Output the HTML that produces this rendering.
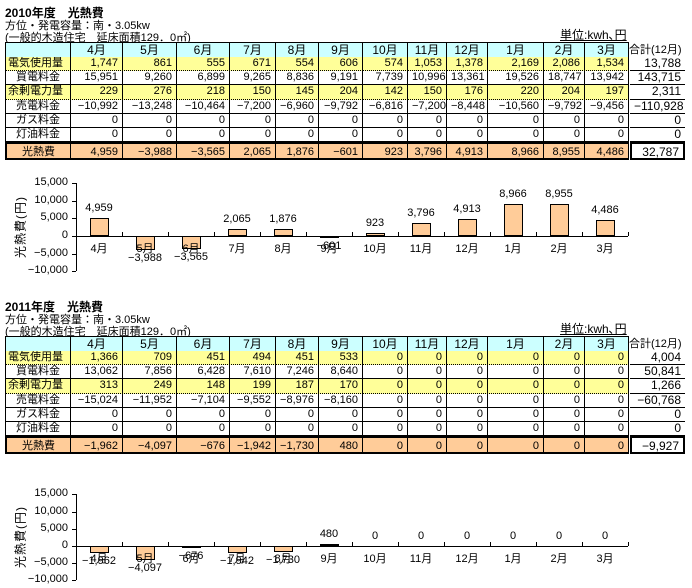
<!DOCTYPE html>
<html><head><meta charset="utf-8"><style>
body{margin:0;width:692px;height:588px;background:#fff;position:relative;overflow:hidden;font-family:"Liberation Sans","Noto Sans CJK JP",sans-serif;font-size:11px;color:#000}
.a{position:absolute;white-space:nowrap}
.c{position:absolute;box-sizing:border-box;line-height:14px;padding:0 4px;overflow:hidden;white-space:nowrap}
</style></head><body>
<div id="root"></div>
<script>
const months=["4月","5月","6月","7月","8月","9月","10月","11月","12月","1月","2月","3月"];
const rowLabels=["電気使用量","買電料金","余剰電力量","売電料金","ガス料金","灯油料金","光熱費"];
const y2010use=[1747,861,555,671,554,606,574,1053,1378,2169,2086,1534];
const y2010buy=[15951,9260,6899,9265,8836,9191,7739,10996,13361,19526,18747,13942];
const y2010surplus=[229,276,218,150,145,204,142,150,176,220,204,197];
const y2010sell=[-10992,-13248,-10464,-7200,-6960,-9792,-6816,-7200,-8448,-10560,-9792,-9456];
const y2010gas=[0,0,0,0,0,0,0,0,0,0,0,0];
const y2010oil=[0,0,0,0,0,0,0,0,0,0,0,0];
const y2010cost=[4959,-3988,-3565,2065,1876,-601,923,3796,4913,8966,8955,4486];
const y2010total=[13788,143715,2311,-110928,0,0,32787];
const y2011use=[1366,709,451,494,451,533,0,0,0,0,0,0];
const y2011buy=[13062,7856,6428,7610,7246,8640,0,0,0,0,0,0];
const y2011surplus=[313,249,148,199,187,170,0,0,0,0,0,0];
const y2011sell=[-15024,-11952,-7104,-9552,-8976,-8160,0,0,0,0,0,0];
const y2011gas=[0,0,0,0,0,0,0,0,0,0,0,0];
const y2011oil=[0,0,0,0,0,0,0,0,0,0,0,0];
const y2011cost=[-1962,-4097,-676,-1942,-1730,480,0,0,0,0,0,0];
const y2011total=[4004,50841,1266,-60768,0,0,-9927];
const yTicks=[15000,10000,5000,0,-5000,-10000];

const root=document.body;
const fmt=v=>v.toLocaleString('en-US').replace('-','−');
function el(cls,x,y,w,h,txt,css,name){
  const d=document.createElement('div');d.className=cls;
  d.style.left=x+'px';d.style.top=y+'px';
  if(w!=null)d.style.width=w+'px';if(h!=null)d.style.height=h+'px';
  if(txt!=null)d.textContent=txt;if(css)d.style.cssText+=css;
  
  
  root.appendChild(d);return d;
}
const cols=[5,70,122,176,229,275,318,362,407,446,487,543,584,628,685];
function table(oy,title,rows,totals,key){
  el('a',5,oy-38,null,null,title,'font-weight:bold;font-size:12px','table-title-'+key);
  el('a',5,oy-25,null,null,'方位・発電容量：南・3.05kw','font-size:11px','table-subtitle-'+key);
  el('a',5,oy-13,null,null,'(一般的木造住宅　延床面積129．0㎡)','font-size:11px;text-decoration:underline','table-note-'+key);
  el('a',560,oy-16,null,null,'単位:kwh､円','font-size:12px;text-decoration:underline','unit-label-'+key);
  const hy=oy, hh=15;
  el('c',cols[0],hy,cols[1]-cols[0]+1,hh+1,'','background:#ccffff;border:1px solid #000','header-corner-'+key);
  months.forEach((m,i)=>{
    el('c',cols[i+1],hy,cols[i+2]-cols[i+1]+1,hh+1,m,'background:#ccffff;border:1px solid #000;text-align:center;font-size:12px','header-month-'+key);
  });
  el('c',cols[13],hy+1,cols[14]-cols[13],hh,'合計(12月)','text-align:left;padding:0 1px;font-size:11px','header-total-'+key);
  const rh=14.2;
  rows.forEach((r,ri)=>{
    const y=Math.round(hy+hh+ri*rh), h=Math.round(hy+hh+(ri+1)*rh)-y;
    const isTot=ri===6, yellow=(ri===0||ri===2);
    const bg=isTot?'#ffcc99':(yellow?'#ffff99':'#fff');
    const bb=(yellow?'1px dotted #000':'1px solid #000');
    const H=isTot?18:h;
    const border=isTot?'border-top:2px solid #000;border-bottom:2px solid #000;border-left:1px solid #000;border-right:1px solid #000;':'border-left:1px solid #000;border-right:1px solid #000;border-bottom:'+bb+';';
    el('c',cols[0],y,cols[1]-cols[0]+1,H,rowLabels[ri],'background:'+bg+';'+border+(isTot?'border-left:2px solid #000;':'')+'padding:0 2px;text-align:'+(yellow?'left':'center')+';font-size:11px;line-height:'+(H-2)+'px','row-label-'+key);
    r.forEach((v,i)=>{
      el('c',cols[i+1],y,cols[i+2]-cols[i+1]+1,H,fmt(v),'background:'+bg+';'+border+'text-align:right;line-height:'+(H-2)+'px','cell-'+key);
    });
    el('c',cols[13]+2,y,cols[14]-cols[13]-2,H,fmt(totals[ri]),(isTot?'border:2px solid #000;':'border-bottom:1px solid #000;')+'text-align:right;font-size:12px;line-height:'+(H-2)+'px','total-cell-'+key);
  });
}
table(42,'2010年度　光熱費',[y2010use,y2010buy,y2010surplus,y2010sell,y2010gas,y2010oil,y2010cost],y2010total,'2010');
table(336,'2011年度　光熱費',[y2011use,y2011buy,y2011surplus,y2011sell,y2011gas,y2011oil,y2011cost],y2011total,'2011');

function chart(y0,per5000,vals,key){
  const x0=76,cw=46,x1=x0+cw*12;
  const ys=v=>y0-v/5000*per5000;
  el('a',x0,ys(15000),1,ys(-10000)-ys(15000),'','background:#000','y-axis-'+key);
  yTicks.forEach(t=>{
    el('a',x0-4,ys(t),4,1,'','background:#000','y-tick-'+key);
    el('a',x0-72,ys(t)-7,64,null,fmt(t),'text-align:right;font-size:11px','y-tick-label-'+key);
  });
  el('a',20,(ys(15000)+ys(-10000))/2,null,null,'光熱費(円)','font-size:12px;transform:translate(-50%,-50%) rotate(-90deg);letter-spacing:1px','y-axis-title-'+key);
  el('a',x0,y0,x1-x0,1,'','background:#000','x-axis-'+key);
  for(let i=1;i<=12;i++) el('a',x0+cw*i,y0-4,1,4,'','background:#000','x-tick-'+key);
  vals.forEach((v,i)=>{
    const cx=x0+cw*(i+0.5), bw=19;
    const top=Math.min(ys(v),y0), bot=Math.max(ys(v),y0);
    if(v!==0) el('a',cx-bw/2,top,bw,Math.max(bot-top,1),'','background:#ffcc99;border:1px solid #000;box-sizing:border-box','bar-'+key+'-'+months[i]);
    const ly=v>=0?top-16:bot+2;
    el('a',cx-25,ly,50,null,fmt(v),'text-align:center','value-label-'+key);
    el('a',cx-25,y0+4,50,null,months[i],'text-align:center','x-label-'+key);
  });
}
chart(236,17.7,y2010cost,'2010');
chart(546,17.2,y2011cost,'2011');
</script>
</body></html>
